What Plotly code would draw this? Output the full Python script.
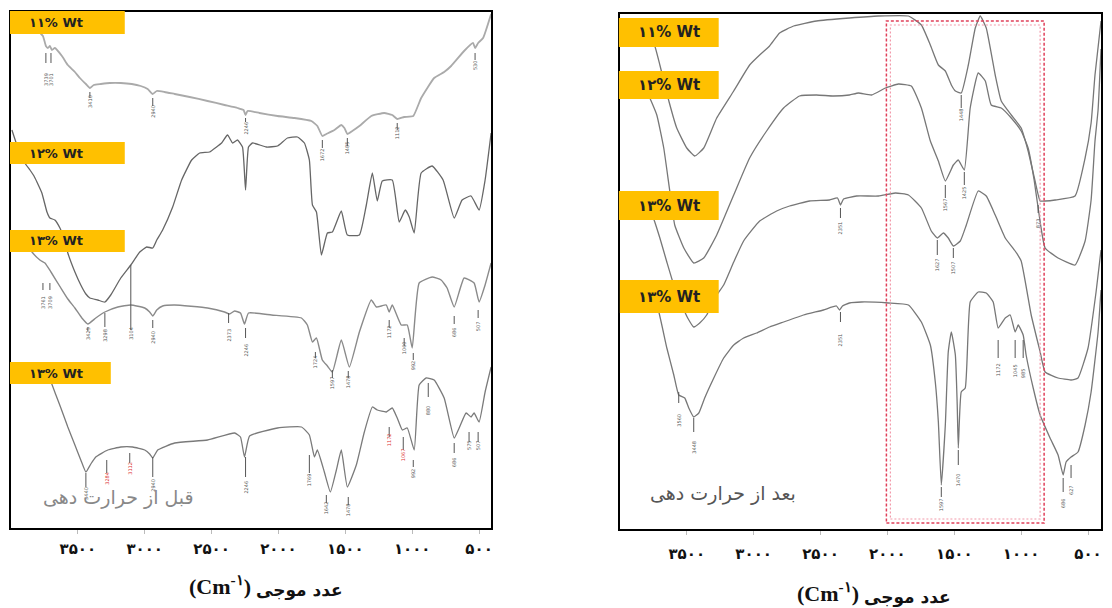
import plotly.graph_objects as go

# ---------------- data (wavenumber cm-1, relative transmittance, offset per curve) -------------
tick_vals = [3500, 3000, 2500, 2000, 1500, 1000, 500]
tick_text = ["۳۵۰۰", "۳۰۰۰", "۲۵۰۰", "۲۰۰۰", "۱۵۰۰", "۱۰۰۰", "۵۰۰"]

labels_left = ["۱۱% Wt", "۱۲% Wt", "۱۳% Wt", "۱۳% Wt"]
labels_right = ["۱۱% Wt", "۱۲% Wt", "۱۳% Wt", "۱۳% Wt"]

# ----- left panel: before heat treatment -----
L1_wn = [3821, 3761, 3739, 3724, 3709, 3694, 3672, 3619, 3575, 3522, 3485, 3440, 3410, 3381, 3328, 3261,
         3179, 3097, 3030, 2978, 2940, 2910, 2851, 2776, 2664, 2530, 2403, 2306, 2261, 2246, 2231, 2142,
         2007, 1880, 1754, 1709, 1672, 1642, 1582, 1530, 1507, 1485, 1448, 1395, 1306, 1209, 1149, 1112,
         1060, 992, 933, 836, 761, 709, 612, 545, 530, 507, 470, 410]
L1_t = [500, 492, 482, 480, 482, 478, 480, 472, 463, 456, 450, 444, 440, 443, 444, 445,
        445, 444, 442, 439, 434, 437, 436, 434, 431, 427, 423, 420, 418, 413, 417, 415,
        412, 410, 407, 402, 392, 394, 398, 403, 400, 394, 397, 402, 412, 415, 413, 409,
        411, 412, 430, 450, 456, 462, 477, 485, 480, 485, 490, 514]

L2_wn = [3993, 3948, 3896, 3858, 3828, 3806, 3769, 3731, 3709, 3672, 3634, 3604, 3575, 3522, 3478, 3440,
         3410, 3351, 3298, 3254, 3179, 3104, 3037, 2985, 2940, 2910, 2866, 2791, 2724, 2649, 2589, 2515,
         2463, 2425, 2381, 2343, 2306, 2269, 2246, 2224, 2194, 2090, 2007, 1933, 1858, 1806, 1769, 1746,
         1716, 1679, 1634, 1597, 1530, 1485, 1395, 1343, 1298, 1261, 1224, 1149, 1097, 1052, 1022, 985,
         933, 851, 769, 686, 627, 560, 500, 455, 410]
L2_t = [398, 380, 365, 358, 352, 346, 335, 316, 310, 308, 300, 290, 275, 256, 243, 234,
        230, 228, 226, 233, 250, 263, 276, 281, 280, 288, 298, 321, 348, 368, 375, 376,
        381, 385, 393, 385, 388, 381, 338, 381, 385, 381, 382, 390, 391, 385, 368, 323,
        316, 273, 295, 296, 317, 293, 293, 323, 355, 327, 347, 348, 306, 318, 311, 295,
        355, 362, 348, 310, 328, 332, 318, 348, 395]

L3_wn = [3896, 3843, 3784, 3746, 3701, 3627, 3575, 3522, 3470, 3425, 3366, 3298, 3201, 3104, 3000, 2963,
         2940, 2910, 2866, 2776, 2530, 2403, 2366, 2328, 2284, 2254, 2224, 2052, 1828, 1784, 1746, 1716,
         1672, 1634, 1597, 1530, 1470, 1395, 1306, 1268, 1194, 1172, 1149, 1082, 1037, 1000, 948, 851,
         784, 739, 686, 612, 537, 500, 455, 410]
L3_t = [288, 276, 268, 265, 256, 240, 229, 220, 210, 204, 210, 216, 221, 223, 220, 216,
        212, 218, 222, 223, 220, 216, 214, 217, 215, 204, 215, 213, 210, 203, 186, 190,
        168, 162, 156, 188, 161, 196, 228, 221, 223, 216, 223, 203, 203, 180, 245, 251,
        248, 240, 221, 250, 245, 226, 243, 265]

L4_wn = [3784, 3739, 3701, 3664, 3627, 3575, 3522, 3478, 3440, 3403, 3366, 3276, 3179, 3090, 3000, 2963,
         2940, 2903, 2776, 2530, 2328, 2284, 2254, 2216, 2007, 1828, 1769, 1731, 1709, 1657, 1612, 1567,
         1530, 1485, 1418, 1358, 1298, 1261, 1194, 1149, 1112, 1074, 1037, 985, 948, 896, 836, 761,
         686, 649, 597, 560, 537, 500, 455, 410]
L4_t = [163, 155, 146, 133, 120, 101, 83, 68, 56, 64, 71, 78, 81, 81, 78, 74,
        70, 78, 85, 88, 95, 91, 71, 92, 100, 101, 93, 71, 78, 56, 36, 58,
        78, 41, 63, 96, 121, 118, 116, 120, 110, 98, 100, 78, 143, 150, 148, 130,
        90, 100, 115, 111, 115, 106, 136, 161]

# ----- right panel: after heat treatment -----
R1_wn = [3784, 3739, 3701, 3664, 3634, 3575, 3500, 3440, 3373, 3276, 3149, 3030, 2955, 2881, 2806, 2701,
         2530, 2284, 2067, 1843, 1746, 1679, 1619, 1567, 1522, 1492, 1448, 1395, 1343, 1306, 1261, 1194,
         1149, 1074, 1000, 948, 896, 858, 821, 746, 597, 522, 477, 448, 403]
R1_t = [494, 483, 464, 444, 428, 401, 381, 373, 381, 411, 438, 464, 474, 483, 496, 503,
        508, 511, 513, 513, 504, 484, 464, 458, 444, 438, 436, 464, 501, 513, 501, 454,
        428, 414, 401, 378, 348, 328, 328, 329, 333, 371, 406, 454, 508]

R2_wn = [3821, 3776, 3724, 3672, 3627, 3590, 3522, 3448, 3373, 3276, 3149, 3030, 2903, 2776, 2657, 2530,
         2403, 2284, 2216, 2119, 2015, 1918, 1821, 1746, 1679, 1619, 1567, 1507, 1470, 1425, 1381, 1321,
         1268, 1224, 1149, 1074, 1000, 948, 903, 873, 821, 724, 597, 522, 477, 448, 425, 403]
R2_t = [444, 431, 414, 381, 338, 304, 281, 266, 271, 294, 334, 371, 398, 421, 433, 434,
        433, 434, 436, 434, 441, 445, 443, 421, 388, 368, 348, 364, 369, 359, 421, 456,
        448, 424, 421, 411, 398, 381, 349, 321, 281, 271, 264, 288, 329, 388, 419, 480]

R3_wn = [3784, 3739, 3701, 3649, 3597, 3537, 3493, 3448, 3403, 3351, 3291, 3224, 3149, 3075, 2955, 2828,
         2731, 2582, 2433, 2373, 2351, 2328, 2231, 2067, 1940, 1843, 1746, 1672, 1627, 1582, 1545, 1507,
         1455, 1410, 1321, 1261, 1194, 1119, 1045, 1000, 925, 858, 821, 724, 627, 575, 500, 440, 403]
R3_t = [324, 307, 291, 267, 244, 224, 211, 202, 206, 214, 231, 244, 267, 288, 308, 318,
        323, 328, 329, 331, 324, 330, 333, 333, 336, 334, 321, 298, 291, 296, 291, 283,
        288, 304, 338, 333, 314, 291, 278, 268, 214, 177, 157, 151, 149, 151, 181, 237, 279]

R4_wn = [3746, 3709, 3649, 3597, 3560, 3515, 3485, 3448, 3410, 3366, 3298, 3224, 3149, 3075, 2978, 2881,
         2776, 2627, 2478, 2381, 2358, 2336, 2284, 2194, 1992, 1843, 1746, 1679, 1642, 1619, 1597, 1567,
         1545, 1522, 1492, 1478, 1470, 1448, 1418, 1381, 1321, 1261, 1209, 1172, 1119, 1082, 1045, 1022,
         985, 963, 910, 858, 784, 724, 686, 664, 627, 575, 522, 477, 425, 403]
R4_t = [229, 217, 181, 154, 134, 131, 121, 112, 116, 131, 151, 171, 184, 191, 196, 202,
        207, 214, 219, 223, 219, 223, 226, 227, 226, 224, 207, 184, 147, 107, 44, 104,
        177, 197, 174, 124, 81, 137, 141, 227, 237, 236, 227, 201, 211, 214, 197, 204,
        194, 174, 141, 114, 91, 74, 54, 67, 72, 77, 104, 137, 197, 239]

# ----- peak markers: wavenumber, tick top, tick bottom, label centre -----
LP_wn = [3739, 3701, 3410, 2940, 2246, 1672, 1485, 1112, 530,
         3761, 3709, 3425, 3298, 3104, 2940, 2373, 2246, 1724, 1597, 1478, 1172, 1060, 992, 686, 507,
         3440, 3284, 3112, 2940, 2246, 1769, 1642, 1478, 1172, 1067, 992, 880, 686, 575, 507]
LP_top = [475, 475, 436, 430, 410, 388, 390, 405, 475,
          245, 245, 201, 215, 263, 208, 215, 200, 176, 158, 157, 208, 190, 175, 212, 218,
          55, 68, 75, 71, 71, 73, 33, 31, 101, 91, 68, 145, 85, 96, 96]
LP_bot = [465, 465, 430, 422, 406, 380, 382, 398, 468,
          238, 238, 197, 201, 198, 200, 205, 190, 170, 150, 150, 200, 182, 168, 204, 210,
          41, 55, 65, 51, 51, 55, 25, 23, 91, 78, 61, 131, 75, 86, 86]
LP_lab = [449, 449, 427, 417, 400, 373, 380, 395, 463,
          226, 226, 195, 193, 195, 191, 193, 178, 166, 145, 146, 196, 180, 163, 196, 202,
          35, 50, 60, 43, 41, 48, 20, 18, 88, 73, 55, 118, 66, 83, 83]
LP_red = [0, 0, 0, 0, 0, 0, 0, 0, 0,
          0, 0, 0, 0, 0, 0, 0, 0, 0, 0, 0, 0, 0, 0, 0, 0,
          0, 1, 1, 0, 0, 0, 0, 0, 1, 1, 0, 0, 0, 0, 0]

RP_wn = [1448, 1567, 1425, 873, 2351, 1627, 1507, 3560, 3448, 2351, 1597, 1470, 1172, 1045, 985, 686, 627]
RP_top = [434, 344, 357, 324, 321, 289, 281, 137, 111, 217, 42, 79, 189, 189, 189, 51, 64]
RP_bot = [421, 331, 344, 316, 311, 274, 271, 126, 97, 207, 32, 64, 171, 171, 171, 37, 51]
RP_lab = [414, 324, 336, 306, 301, 264, 261, 109, 82, 189, 24, 49, 159, 158, 156, 26, 39]

# ---------------- figure ----------------
W, H = 1112, 608
fig = go.Figure()

def add_spec(wn, t, color, width, xa, ya):
    fig.add_trace(go.Scatter(x=wn, y=t, mode="lines", xaxis=xa, yaxis=ya,
                             line=dict(color=color, width=width, shape="spline", smoothing=0.4),
                             hoverinfo="skip", showlegend=False))

add_spec(L1_wn, L1_t, "#aaaaaa", 1.8, "x", "y")
add_spec(L2_wn, L2_t, "#666666", 1.3, "x", "y")
add_spec(L3_wn, L3_t, "#8a8a8a", 1.4, "x", "y")
add_spec(L4_wn, L4_t, "#7a7a7a", 1.3, "x", "y")
add_spec(R1_wn, R1_t, "#777777", 1.3, "x2", "y2")
add_spec(R2_wn, R2_t, "#777777", 1.3, "x2", "y2")
add_spec(R3_wn, R3_t, "#777777", 1.3, "x2", "y2")
add_spec(R4_wn, R4_t, "#777777", 1.3, "x2", "y2")

def add_ticks(wns, tops, bots, xa, ya):
    xs, ys = [], []
    for w, a, b in zip(wns, tops, bots):
        xs += [w, w, None]
        ys += [a, b, None]
    fig.add_trace(go.Scatter(x=xs, y=ys, mode="lines", xaxis=xa, yaxis=ya,
                             line=dict(color="#555555", width=1), hoverinfo="skip", showlegend=False))

add_ticks(LP_wn, LP_top, LP_bot, "x", "y")
add_ticks(RP_wn, RP_top, RP_bot, "x2", "y2")

annotations = []
for w, yl, red in zip(LP_wn, LP_lab, LP_red):
    annotations.append(dict(x=w, y=yl, xref="x", yref="y", text=str(w), textangle=-90,
                            showarrow=False, font=dict(size=5, color="#d33" if red else "#555",
                                                      family="DejaVu Sans")))
for w, yl in zip(RP_wn, RP_lab):
    annotations.append(dict(x=w, y=yl, xref="x2", yref="y2", text=str(w), textangle=-90,
                            showarrow=False, font=dict(size=5, color="#555", family="DejaVu Sans")))

def px(x):
    return x / W

def py(y):
    return 1 - y / H

shapes = []
# orange sample labels
box_left = [(10, 11, 125, 34), (10, 142, 125, 164), (10, 230, 125, 252), (10, 362, 111, 384)]
box_right = [(620, 18, 720, 47), (620, 71, 720, 99), (620, 191, 720, 220), (621, 280, 720, 313)]
for (x0, y0, x1, y1), txt in zip(box_left, labels_left):
    shapes.append(dict(type="rect", xref="paper", yref="paper", x0=px(x0), x1=px(x1), y0=py(y1), y1=py(y0),
                       fillcolor="#FFC000", line=dict(width=0), layer="above"))
    annotations.append(dict(x=px(27), y=py((y0 + y1) / 2), xref="paper", yref="paper", text=txt,
                            xanchor="left", yanchor="middle", showarrow=False,
                            font=dict(size=13, color="#222", family="DejaVu Sans", weight="bold")))
for (x0, y0, x1, y1), txt in zip(box_right, labels_right):
    shapes.append(dict(type="rect", xref="paper", yref="paper", x0=px(x0), x1=px(x1), y0=py(y1), y1=py(y0),
                       fillcolor="#FFC000", line=dict(width=0), layer="above"))
    annotations.append(dict(x=px(670), y=py((y0 + y1) / 2), xref="paper", yref="paper", text=txt,
                            xanchor="center", yanchor="middle", showarrow=False,
                            font=dict(size=15, color="#222", family="DejaVu Sans", weight="bold")))

# red dashed region (fingerprint region) in right panel
shapes.append(dict(type="rect", xref="paper", yref="paper", x0=px(888), x1=px(1046), y0=py(523), y1=py(21),
                   line=dict(color="#e0405a", width=1.5, dash="3px,2px"), layer="above"))
shapes.append(dict(type="rect", xref="paper", yref="paper", x0=px(892), x1=px(1042), y0=py(519), y1=py(25),
                   line=dict(color="#f29aaa", width=1.2, dash="2px,2px"), layer="above"))

# state text
annotations.append(dict(x=px(119), y=py(511), xref="paper", yref="paper", text="قبل از حرارت دهی",
                        xanchor="center", showarrow=False,
                        font=dict(size=19, color="#888", family="DejaVu Sans")))
annotations.append(dict(x=px(724), y=py(507), xref="paper", yref="paper", text="بعد از حرارت دهی",
                        xanchor="center", showarrow=False,
                        font=dict(size=19, color="#555", family="DejaVu Sans")))

# axis titles
for (xc, yc1, yc2) in [(253, 585, 590), (863, 592, 597)]:
    annotations.append(dict(x=px(xc), y=py(yc1), xref="paper", yref="paper",
                            text="(Cm<sup>-۱</sup>)", xanchor="right", yanchor="middle", showarrow=False,
                            font=dict(size=22, color="#111", family="Liberation Serif", weight="bold")))
    annotations.append(dict(x=px(xc + 1), y=py(yc2), xref="paper", yref="paper",
                            text="عدد موجی", xanchor="left", yanchor="middle", showarrow=False,
                            font=dict(size=17, color="#111", family="DejaVu Sans", weight="bold")))

xcommon = dict(tickmode="array", tickvals=tick_vals, ticktext=tick_text, ticks="outside", ticklen=4,
               tickcolor="#bbbbbb", showgrid=False, zeroline=False, showline=True, linecolor="black",
               linewidth=2, mirror=True,
               tickfont=dict(size=15, color="#111", family="DejaVu Sans", weight="bold"))
ycommon = dict(showticklabels=False, ticks="", showgrid=False, zeroline=False, showline=True,
               linecolor="black", linewidth=2, mirror=True)

fig.update_layout(
    width=W, height=H, margin=dict(l=0, r=0, t=0, b=0),
    paper_bgcolor="white", plot_bgcolor="white", showlegend=False,
    xaxis=dict(domain=[px(11), px(492)], range=[4000, 410], anchor="y", ticklabelstandoff=2, **xcommon),
    yaxis=dict(domain=[py(528), py(12)], range=[0, 516], anchor="x", **ycommon),
    xaxis2=dict(domain=[px(621), px(1103)], range=[4000, 403], anchor="y2", ticklabelstandoff=6, **xcommon),
    yaxis2=dict(domain=[py(529), py(14)], range=[0, 515], anchor="x2", **ycommon),
    shapes=shapes, annotations=annotations,
)

fig.write_html("out.html", config={"displayModeBar": False},
               post_script="document.body.style.margin='0px';document.body.style.overflow='hidden';")
